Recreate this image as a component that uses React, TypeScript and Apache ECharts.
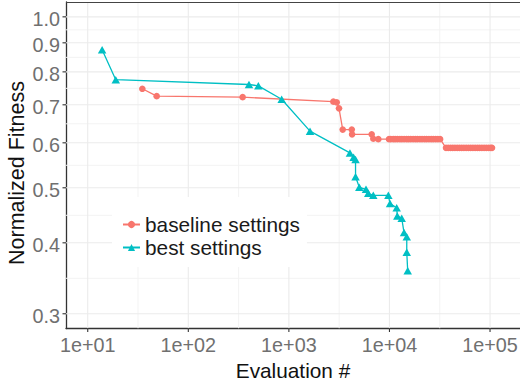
import React, { useEffect, useRef } from "react";
import * as echarts from "echarts";

// Evaluation count and normalized fitness of the best-so-far individual
const baselineEvals = [
  34.9, 48.5, 347, 2770, 2990, 3150, 3430, 4220, 4250, 6660, 6910, 7750,
  9900, 10300, 10900, 11400, 12000, 12700, 13300, 14000, 14800, 15500, 16300, 17200,
  18100, 19000, 20100, 21100, 22300, 23400, 24700, 26000, 27300, 28800, 30300, 31900,
  36500, 38400, 40500, 42600, 44800, 47200, 49700, 52300, 55000, 57900, 61000,
  64200, 67600, 71100, 74900, 78800, 83000, 87300, 91900, 96800, 101800, 104700,
];
const baselineFitness = [
  0.747, 0.725, 0.722, 0.709, 0.707, 0.69, 0.633, 0.633, 0.621, 0.621, 0.61, 0.609,
  0.609, 0.609, 0.609, 0.609, 0.609, 0.609, 0.609, 0.609, 0.609, 0.609, 0.609, 0.609,
  0.609, 0.609, 0.609, 0.609, 0.609, 0.609, 0.609, 0.609, 0.609, 0.609, 0.609, 0.609,
  0.588, 0.588, 0.588, 0.588, 0.588, 0.588, 0.588, 0.588, 0.588, 0.588, 0.588,
  0.588, 0.588, 0.588, 0.588, 0.588, 0.588, 0.588, 0.588, 0.588, 0.588, 0.588,
];
const bestEvals = [
  13.9, 19.0, 401, 497, 848, 1622, 4045, 4400, 4600, 4600, 5015, 5845, 6155, 6905,
  9750, 10130, 11800, 11970, 13240, 13960, 14860, 14860, 15190,
];
const bestFitness = [
  0.875, 0.775, 0.76, 0.756, 0.716, 0.629, 0.576, 0.566, 0.561, 0.523, 0.501, 0.497,
  0.489, 0.485, 0.485, 0.469, 0.461, 0.446, 0.442, 0.417, 0.41, 0.385, 0.357,
];

const seriesNames = ["baseline settings", "best settings"];
const xTitle = "Evaluation #";
const yTitle = "Normalized Fitness";

// Axis breaks
const xBreaks = [10, 100, 1000, 10000, 100000];
const xBreakLabels = ["1e+01", "1e+02", "1e+03", "1e+04", "1e+05"];
const yBreaks = [0.3, 0.4, 0.5, 0.6, 0.7, 0.8, 0.9, 1.0];
const yBreakLabels = ["0.3", "0.4", "0.5", "0.6", "0.7", "0.8", "0.9", "1.0"];

const X_MIN = 6.08;
const X_MAX = 198600;
const Y_MIN = 0.2826;
const Y_MAX = 1.062;

const FONT = "'Liberation Sans', Arial, Helvetica, sans-serif";
const RED = "#F8766D";
const TEAL = "#00BFC4";

// Minor breaks sit halfway between majors on the log scale
const minorOf = (b: number[]) => b.slice(1).map((v, i) => Math.sqrt(v * b[i]));

const zip = (xs: number[], ys: number[]) => xs.map((x, i) => [x, ys[i]]);

function gridLines(data: number[][], vertical: boolean, color: string, width: number) {
  return {
    type: "custom",
    silent: true,
    z: 1,
    clip: true,
    data,
    renderItem: (params: any, api: any) => {
      const cs = params.coordSys;
      const p = api.coord([api.value(0), api.value(1)]);
      const shape = vertical
        ? { x1: p[0], y1: cs.y, x2: p[0], y2: cs.y + cs.height }
        : { x1: cs.x, y1: p[1], x2: cs.x + cs.width, y2: p[1] };
      return { type: "line", shape, style: { stroke: color, lineWidth: width } };
    },
  };
}

function axisMarks(data: number[][], labels: string[], vertical: boolean) {
  return {
    type: "custom",
    silent: true,
    z: 5,
    clip: false,
    data,
    renderItem: (params: any, api: any) => {
      const cs = params.coordSys;
      const p = api.coord([api.value(0), api.value(1)]);
      const label = labels[params.dataIndex];
      if (vertical) {
        const yb = cs.y + cs.height;
        return {
          type: "group",
          children: [
            { type: "line", shape: { x1: p[0], y1: yb, x2: p[0], y2: yb + 3.5 }, style: { stroke: "#333", lineWidth: 1.1 } },
            {
              type: "text",
              x: p[0],
              y: yb + 16,
              style: { text: label, fill: "#707070", fontSize: 19.8, fontFamily: FONT, align: "center", verticalAlign: "middle" },
            },
          ],
        };
      }
      return {
        type: "group",
        children: [
          { type: "line", shape: { x1: cs.x - 3.5, y1: p[1], x2: cs.x, y2: p[1] }, style: { stroke: "#333", lineWidth: 1.1 } },
          {
            type: "text",
            x: cs.x - 6,
            y: p[1] + 2.5,
            style: { text: label, fill: "#707070", fontSize: 19.8, fontFamily: FONT, align: "right", verticalAlign: "middle" },
          },
        ],
      };
    },
  };
}

function topBorder() {
  return {
    type: "custom",
    silent: true,
    z: 6,
    clip: false,
    data: [[1000, 0.5]],
    renderItem: (params: any) => {
      const cs = params.coordSys;
      return {
        type: "line",
        shape: { x1: cs.x, y1: cs.y + 0.5, x2: cs.x + cs.width, y2: cs.y + 0.5 },
        style: { stroke: "#444", lineWidth: 1.2 },
      };
    },
  };
}

export default function App() {
  const ref = useRef<HTMLDivElement>(null);

  useEffect(() => {
    if (!ref.current) return;
    const chart = echarts.init(ref.current, undefined, { renderer: "svg" });

    const xMinor = minorOf(xBreaks);
    const yMinor = minorOf(yBreaks);

    chart.setOption({
      animation: false,
      backgroundColor: "#fff",
      grid: { left: 66, top: 2, width: 454, height: 331, containLabel: false },
      graphic: [
        {
          type: "text",
          x: 17,
          y: 173,
          rotation: Math.PI / 2,
          style: {
            text: yTitle,
            fill: "#111",
            fontSize: 21.5,
            fontFamily: FONT,
            align: "center",
            verticalAlign: "middle",
          },
        },
      ],
      xAxis: {
        type: "log",
        logBase: 10,
        min: X_MIN,
        max: X_MAX,
        name: xTitle,
        nameLocation: "middle",
        nameGap: 31.5,
        nameTextStyle: { fontSize: 20.8, color: "#111", fontFamily: FONT },
        axisLine: { show: true, onZero: false, lineStyle: { color: "#333", width: 1.3 } },
        axisTick: { show: false },
        axisLabel: { show: false },
        splitLine: { show: false },
        minorSplitLine: { show: false },
      },
      yAxis: {
        type: "log",
        logBase: 10,
        min: Y_MIN,
        max: Y_MAX,
        axisLine: { show: true, onZero: false, lineStyle: { color: "#333", width: 1.3 } },
        axisTick: { show: false },
        axisLabel: { show: false },
        splitLine: { show: false },
      },
      legend: {
        data: seriesNames,
        orient: "vertical",
        left: 112,
        top: 197,
        backgroundColor: "#fff",
        padding: [17, 7, 9, 10],
        itemWidth: 17,
        itemHeight: 9,
        itemGap: 2,
        textStyle: { fontSize: 20.8, color: "#1a1a1a", fontFamily: FONT },
      },
      series: [
        gridLines(xMinor.map((v) => [v, 0.5]), true, "#f3f3f3", 1),
        gridLines(yMinor.map((v) => [1000, v]), false, "#f3f3f3", 1),
        gridLines(xBreaks.map((v) => [v, 0.5]), true, "#ebebeb", 1.1),
        gridLines(yBreaks.map((v) => [1000, v]), false, "#ebebeb", 1.1),
        axisMarks(xBreaks.map((v) => [v, 0.5]), xBreakLabels, true),
        axisMarks(yBreaks.map((v) => [1000, v]), yBreakLabels, false),
        topBorder(),
        {
          name: seriesNames[0],
          type: "line",
          z: 3,
          data: zip(baselineEvals, baselineFitness),
          symbol: "circle",
          symbolSize: 6.6,
          showSymbol: true,
          color: RED,
          itemStyle: { color: RED },
          lineStyle: { color: RED, width: 1.3 },
        },
        {
          name: seriesNames[1],
          type: "line",
          z: 4,
          data: zip(bestEvals, bestFitness),
          symbol: "triangle",
          symbolSize: [8.5, 7.5],
          showSymbol: true,
          color: TEAL,
          itemStyle: { color: TEAL },
          lineStyle: { color: TEAL, width: 1.3 },
        },
      ],
    });

    return () => chart.dispose();
  }, []);

  return (
    <div style={{ position: "absolute", left: 0, top: 0, width: 520, height: 386, background: "#fff" }}>
      <div ref={ref} style={{ width: 520, height: 386 }} />
    </div>
  );
}
